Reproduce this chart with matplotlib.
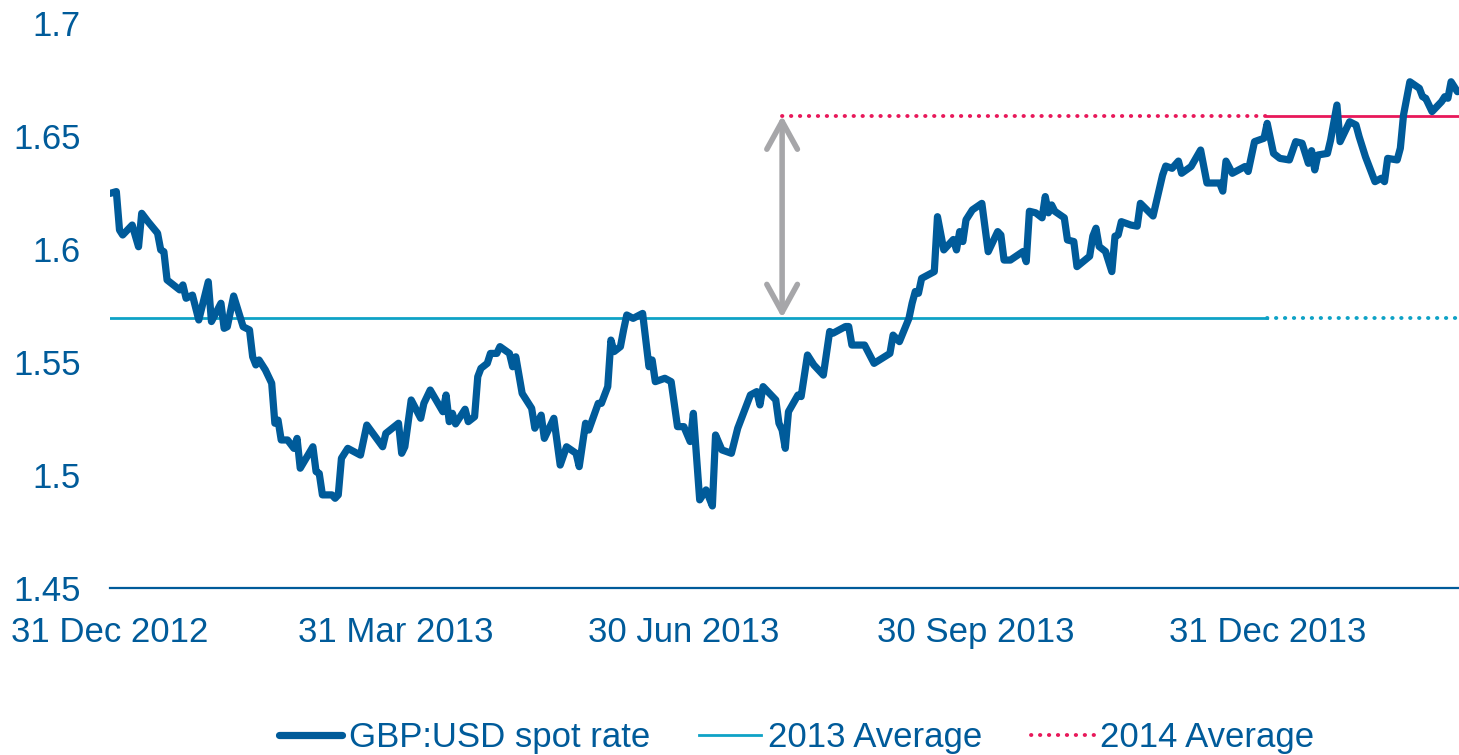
import matplotlib.pyplot as plt
import pandas as pd

plt.rcParams['font.family'] = ['Liberation Sans', 'DejaVu Sans']

# days after 31 Dec 2012
days = [0, 2, 3, 4, 7, 9, 10, 12, 15, 16, 17, 18, 22, 23, 24, 26, 28, 31, 32, 35,
        36, 37, 39, 42, 44, 45, 46, 47, 49, 51, 52, 53, 54, 56, 58, 59, 60, 64, 65, 66,
        67, 70, 71, 72, 73, 75, 79, 81, 86, 87, 91, 92, 93, 95, 98, 99, 101, 105, 106, 107,
        108, 109, 112, 113, 115, 116, 117, 119, 120, 122, 123, 126, 127, 128, 130, 133, 134, 136, 137, 140,
        142, 144, 147, 148, 150, 151, 154, 155, 157, 158, 159, 161, 162, 163, 165, 168, 170, 171, 172, 175,
        177, 179, 181, 183, 184, 186, 188, 190, 191, 193, 196, 198, 202, 204, 205, 206, 210, 211, 212, 213,
        214, 217, 218, 220, 222, 225, 227, 228, 232, 233, 234, 238, 241, 246, 247, 249, 252, 253, 254, 255,
        256, 260, 261, 263, 266, 267, 268, 269, 270, 272, 275, 277, 280, 281, 282, 284, 288, 289, 290, 292,
        294, 295, 296, 297, 298, 301, 302, 304, 305, 309, 310, 311, 312, 314, 316, 317, 318, 319, 322, 324,
        325, 329, 332, 333, 335, 337, 338, 341, 344, 346, 350, 351, 352, 354, 358, 359, 361, 364, 365, 367,
        369, 372, 374, 376, 378, 379, 380, 381, 384, 385, 387, 388, 391, 393, 394, 396, 399, 401, 402, 403,
        406, 407, 408, 410, 413, 414, 415, 417, 420, 421, 422, 423, 425]
rate = [1.6246, 1.6254, 1.6084, 1.6062, 1.6106, 1.6010, 1.6158, 1.6121, 1.6070, 1.5996,
        1.5988, 1.5863, 1.5819, 1.5841, 1.5782, 1.5796, 1.5686, 1.5855, 1.5679, 1.5760,
        1.5649, 1.5656, 1.5792, 1.5656, 1.5642, 1.5523, 1.5487, 1.5509, 1.5465, 1.5406,
        1.5229, 1.5243, 1.5155, 1.5155, 1.5118, 1.5162, 1.5030, 1.5125, 1.5015, 1.5007,
        1.4912, 1.4912, 1.4897, 1.4912, 1.5074, 1.5118, 1.5088, 1.5221, 1.5125, 1.5184,
        1.5229, 1.5096, 1.5125, 1.5332, 1.5251, 1.5317, 1.5376, 1.5280, 1.5354, 1.5236,
        1.5273, 1.5226, 1.5291, 1.5236, 1.5258, 1.5435, 1.5472, 1.5494, 1.5538, 1.5538,
        1.5568, 1.5538, 1.5479, 1.5523, 1.5361, 1.5295, 1.5207, 1.5265, 1.5162, 1.5251,
        1.5044, 1.5125, 1.5096, 1.5037, 1.5229, 1.5199, 1.5317, 1.5317, 1.5391, 1.5597,
        1.5546, 1.5568, 1.5642, 1.5708, 1.5693, 1.5715, 1.5479, 1.5509, 1.5413, 1.5428,
        1.5413, 1.5214, 1.5214, 1.5148, 1.5273, 1.4890, 1.4934, 1.4863, 1.5177, 1.5111,
        1.5096, 1.5207, 1.5354, 1.5369, 1.5310, 1.5391, 1.5332, 1.5229, 1.5199, 1.5118,
        1.5280, 1.5354, 1.5347, 1.5531, 1.5487, 1.5442, 1.5635, 1.5627, 1.5657, 1.5657,
        1.5575, 1.5575, 1.5494, 1.5538, 1.5619, 1.5590, 1.5693, 1.5760, 1.5812, 1.5804,
        1.5870, 1.5900, 1.6143, 1.5996, 1.6042, 1.5996, 1.6077, 1.6033, 1.6129, 1.6173,
        1.6202, 1.5988, 1.6077, 1.6062, 1.5951, 1.5951, 1.5989, 1.5944, 1.6167, 1.6160,
        1.6138, 1.6232, 1.6160, 1.6195, 1.6167, 1.6138, 1.6040, 1.6033, 1.5922, 1.5968,
        1.6057, 1.6092, 1.6011, 1.5989, 1.5900, 1.6057, 1.6062, 1.6121, 1.6106, 1.6101,
        1.6202, 1.6146, 1.6327, 1.6367, 1.6357, 1.6389, 1.6335, 1.6365, 1.6438, 1.6292,
        1.6292, 1.6256, 1.6389, 1.6335, 1.6365, 1.6343, 1.6475, 1.6490, 1.6556, 1.6423,
        1.6401, 1.6394, 1.6475, 1.6468, 1.6379, 1.6435, 1.6350, 1.6416, 1.6423, 1.6482,
        1.6637, 1.6475, 1.6563, 1.6549, 1.6497, 1.6408, 1.6298, 1.6313, 1.6298, 1.6401,
        1.6394, 1.6446, 1.6593, 1.6740, 1.6711, 1.6674, 1.6667, 1.6608, 1.6652, 1.6674,
        1.6667, 1.6740, 1.6696]

avg_2013 = 1.5695
avg_2014 = 1.659

tick_dates = ['2012-12-31', '2013-03-31', '2013-06-30', '2013-09-30', '2013-12-31']
tick_labels = ['31 Dec 2012', '31 Mar 2013', '30 Jun 2013', '30 Sep 2013', '31 Dec 2013']
y_ticks = [1.45, 1.5, 1.55, 1.6, 1.65, 1.7]
y_labels = ['1.45', '1.5', '1.55', '1.6', '1.65', '1.7']

dark_blue = '#005b9a'
teal = '#0ea2c6'
pink = '#e8185a'
grey = '#a6a6a9'
dots = (0, (0.1, 2.2))

start = pd.Timestamp('2012-12-31')
dates = start + pd.to_timedelta(days, unit='D')
end = start + pd.Timedelta(days=425.5)
year_end = pd.Timestamp('2013-12-31')
arrow_date = start + pd.Timedelta(days=212)

fig = plt.figure(figsize=(14.59, 7.55), dpi=100)
ax = fig.add_axes([110 / 1459, 167 / 755, 1349 / 1459, 565 / 755])

ax.plot([start, year_end], [avg_2013, avg_2013], color=teal, lw=2, label='2013 Average')
ax.plot([year_end, end], [avg_2013, avg_2013], color=teal, lw=2.8,
        linestyle=dots, dash_capstyle='round')
ax.plot([arrow_date, year_end], [avg_2014, avg_2014], color=pink, lw=2.8,
        linestyle=dots, dash_capstyle='round', label='2014 Average')
ax.plot([year_end, end], [avg_2014, avg_2014], color=pink, lw=2)
ax.plot(dates, rate, color=dark_blue, lw=5.2, solid_joinstyle='round',
        solid_capstyle='round', label='GBP:USD spot rate', zorder=3)

ax.annotate('', xy=(arrow_date, avg_2014), xytext=(arrow_date, avg_2013),
            arrowprops=dict(arrowstyle='<->,head_length=1.0,head_width=0.55',
                            color=grey, lw=4, mutation_scale=20,
                            shrinkA=0, shrinkB=0, capstyle='round'))

ax.set_xlim(start, end)
ax.set_ylim(1.45, 1.7)
ax.set_xticks(pd.to_datetime(tick_dates))
ax.set_xticklabels(tick_labels)
ax.set_yticks(y_ticks)
ax.set_yticklabels(y_labels)
ax.tick_params(axis='both', length=0, labelsize=25, labelcolor=dark_blue)
ax.tick_params(axis='x', pad=20.5)
ax.tick_params(axis='y', pad=21)
for side in ['top', 'right', 'left']:
    ax.spines[side].set_visible(False)
ax.spines['bottom'].set_color(dark_blue)
ax.spines['bottom'].set_linewidth(1.6)

handles, labels = ax.get_legend_handles_labels()
order = [2, 0, 1]
leg = fig.legend([handles[i] for i in order], [labels[i] for i in order],
                 loc='center', bbox_to_anchor=(797 / 1459, 1 - 738 / 755), ncol=3,
                 frameon=False, fontsize=25, handlelength=1.8, handletextpad=0.2,
                 columnspacing=1.4, borderpad=0)
for t in leg.get_texts():
    t.set_color(dark_blue)

fig.savefig('out.png', dpi=100)
